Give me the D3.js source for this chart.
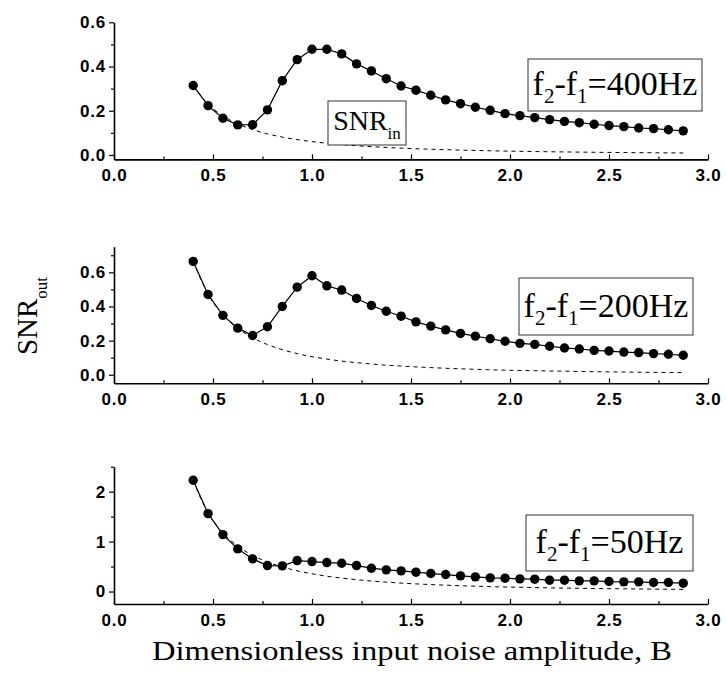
<!DOCTYPE html>
<html>
<head>
<meta charset="utf-8">
<script src="https://cdn.jsdelivr.net/npm/d3@7"></script>
<style>
    body { margin: 0; background: #fff; }
    .tick text { font-family: "Liberation Sans", Arial, sans-serif; font-weight: bold; font-size: 17px; letter-spacing: 0.8px; }
    .serif { font-family: "Liberation Serif", "Times New Roman", serif; }
</style>
</head>
<body>
<div class="chart"></div>
<script>
// noise amplitude B of every simulated point
var noiseB = [0.4, 0.475, 0.55, 0.625, 0.7, 0.775, 0.85, 0.925, 1.0, 1.075, 1.15, 1.225,
    1.3, 1.375, 1.45, 1.525, 1.6, 1.675, 1.75, 1.825, 1.9, 1.975, 2.05, 2.125,
    2.2, 2.275, 2.35, 2.425, 2.5, 2.575, 2.65, 2.725, 2.8, 2.875];

// f2-f1 = 400Hz
var snrOut400 = [0.314, 0.223, 0.166, 0.136, 0.137, 0.204, 0.336, 0.431, 0.478, 0.478, 0.457, 0.412,
    0.380, 0.345, 0.312, 0.293, 0.270, 0.249, 0.232, 0.216, 0.202, 0.187, 0.178, 0.169,
    0.160, 0.152, 0.146, 0.139, 0.133, 0.128, 0.122, 0.119, 0.114, 0.109];
var snrIn400 = [0.314, 0.230, 0.177, 0.141, 0.115, 0.0955, 0.0809, 0.0694, 0.0604, 0.0530, 0.0469, 0.0419,
    0.0376, 0.0340, 0.0309, 0.0282, 0.0259, 0.0239, 0.0220, 0.0204, 0.0190, 0.0177, 0.0166, 0.0155,
    0.0146, 0.0138, 0.0130, 0.0122, 0.0116, 0.0110, 0.0105, 0.0099, 0.0095, 0.0090];

// f2-f1 = 200Hz
var snrOut200 = [0.664, 0.470, 0.348, 0.273, 0.230, 0.281, 0.400, 0.513, 0.580, 0.521, 0.496, 0.447,
    0.406, 0.372, 0.343, 0.310, 0.285, 0.263, 0.242, 0.226, 0.211, 0.196, 0.184, 0.178,
    0.167, 0.157, 0.151, 0.143, 0.139, 0.133, 0.130, 0.124, 0.120, 0.114];
var snrIn200 = [0.665, 0.472, 0.352, 0.272, 0.217, 0.177, 0.147, 0.124, 0.106, 0.092, 0.080, 0.071,
    0.063, 0.056, 0.051, 0.046, 0.042, 0.038, 0.035, 0.032, 0.029, 0.027, 0.025, 0.024,
    0.022, 0.021, 0.019, 0.018, 0.017, 0.016, 0.015, 0.014, 0.0136, 0.0129];

// f2-f1 = 50Hz
var snrOut50 = [2.228, 1.56, 1.14, 0.854, 0.654, 0.52, 0.514, 0.62, 0.60, 0.58, 0.567, 0.52,
    0.467, 0.434, 0.414, 0.387, 0.36, 0.34, 0.314, 0.294, 0.274, 0.267, 0.254, 0.247,
    0.227, 0.227, 0.214, 0.214, 0.20, 0.194, 0.194, 0.18, 0.18, 0.167];
var snrIn50 = [2.22, 1.574, 1.174, 0.909, 0.725, 0.591, 0.492, 0.415, 0.355, 0.307, 0.269, 0.237,
    0.210, 0.188, 0.169, 0.153, 0.139, 0.127, 0.116, 0.107, 0.098, 0.091, 0.085, 0.079,
    0.073, 0.069, 0.064, 0.060, 0.057, 0.054, 0.051, 0.048, 0.045, 0.043];

var xMajor = [0, 0.5, 1.0, 1.5, 2.0, 2.5, 3.0];
var xMinor = [0.25, 0.75, 1.25, 1.75, 2.25, 2.75];
var yMajor400 = [0, 0.2, 0.4, 0.6], yMinor400 = [0.1, 0.3, 0.5];
var yMajor200 = [0, 0.2, 0.4, 0.6], yMinor200 = [0.1, 0.3, 0.5, 0.7];
var yMajor50 = [0, 1, 2], yMinor50 = [0.5, 1.5, 2.5];
var panelLabels = ["400Hz", "200Hz", "50Hz"];

var width = 727, height = 686;
var svg = d3.select(".chart").append("svg")
    .attr("width", width)
    .attr("height", height);

var x = d3.scaleLinear().domain([0, 3]).range([114, 708]);

var panels = [
    {out: snrOut400, inp: snrIn400, major: yMajor400, minor: yMinor400, fmt: d3.format(".1f"),
        domain: [-0.02, 0.6], top: 22.3, bottom: 159.4, label: panelLabels[0],
        box: [528, 59, 174, 52]},
    {out: snrOut200, inp: snrIn200, major: yMajor200, minor: yMinor200, fmt: d3.format(".1f"),
        domain: [-0.05, 0.75], top: 246.7, bottom: 383.3, label: panelLabels[1],
        box: [519, 278, 174, 57]},
    {out: snrOut50, inp: snrIn50, major: yMajor50, minor: yMinor50, fmt: d3.format("d"),
        domain: [-0.25, 2.5], top: 466.7, bottom: 604, label: panelLabels[2],
        box: [526, 515, 167, 56]}
];

function drawPanel(p, idx) {
    var y = d3.scaleLinear().domain(p.domain).range([p.bottom, p.top]);
    var g = svg.append("g");

    // x axis, ticks pointing up into the plot
    g.append("g")
        .attr("transform", "translate(0," + p.bottom + ")")
        .call(d3.axisBottom(x).tickValues(xMinor).tickSize(-3).tickFormat(""))
        .call(function (a) { a.select(".domain").remove(); });
    g.append("g")
        .attr("transform", "translate(0," + p.bottom + ")")
        .call(d3.axisBottom(x).tickValues(xMajor).tickSize(-5).tickSizeOuter(0)
            .tickPadding(10).tickFormat(d3.format(".1f")));

    // y axis, ticks pointing out
    g.append("g")
        .attr("transform", "translate(114,0)")
        .call(d3.axisLeft(y).tickValues(p.minor).tickSize(3).tickFormat(""))
        .call(function (a) { a.select(".domain").remove(); });
    g.append("g")
        .attr("transform", "translate(114,0)")
        .call(d3.axisLeft(y).tickValues(p.major).tickSize(5).tickSizeOuter(0)
            .tickPadding(3).tickFormat(p.fmt));

    g.selectAll(".domain").attr("stroke-width", 1.6);
    g.selectAll(".tick line").attr("stroke-width", 1.2);

    var pts = noiseB.map(function (b, i) { return {b: b, out: p.out[i], inp: p.inp[i]}; });

    g.append("path")
        .datum(pts)
        .attr("fill", "none")
        .attr("stroke", "#000")
        .attr("stroke-width", 1)
        .attr("stroke-dasharray", "4,4")
        .attr("d", d3.line().curve(d3.curveMonotoneX)
            .x(function (d) { return x(d.b); })
            .y(function (d) { return y(d.inp); }));

    g.append("path")
        .datum(pts)
        .attr("fill", "none")
        .attr("stroke", "#000")
        .attr("stroke-width", 1.2)
        .attr("d", d3.line()
            .x(function (d) { return x(d.b); })
            .y(function (d) { return y(d.out); }));

    g.selectAll("circle")
        .data(pts)
        .enter().append("circle")
        .attr("cx", function (d) { return x(d.b); })
        .attr("cy", function (d) { return y(d.out); })
        .attr("r", 4.7)
        .attr("fill", "#000");

    // frequency box
    var bx = p.box;
    g.append("rect")
        .attr("x", bx[0]).attr("y", bx[1])
        .attr("width", bx[2]).attr("height", bx[3])
        .attr("fill", "#fff").attr("stroke", "#333").attr("stroke-width", 1);
    var t = g.append("text")
        .attr("class", "serif")
        .attr("x", bx[0] + bx[2] / 2)
        .attr("y", bx[1] + bx[3] / 2 + 10)
        .attr("text-anchor", "middle")
        .style("font-size", "34px");
    t.append("tspan").text("f");
    t.append("tspan").attr("dy", 8).style("font-size", "21px").text("2");
    t.append("tspan").attr("dy", -8).text("-f");
    t.append("tspan").attr("dy", 8).style("font-size", "21px").text("1");
    t.append("tspan").attr("dy", -8).text("=" + p.label);
}

panels.forEach(drawPanel);

// SNR_in label in the top panel
svg.append("rect")
    .attr("x", 328).attr("y", 101).attr("width", 78).attr("height", 44)
    .attr("fill", "#fff").attr("stroke", "#333").attr("stroke-width", 1);
var snrIn = svg.append("text")
    .attr("class", "serif")
    .attr("x", 367).attr("y", 129.5)
    .attr("text-anchor", "middle")
    .style("font-size", "28px");
snrIn.append("tspan").text("SNR");
snrIn.append("tspan").attr("dy", 9).style("font-size", "17px").text("in");

// y label
var yl = svg.append("text")
    .attr("class", "serif")
    .attr("transform", "translate(37,316) rotate(-90)")
    .attr("text-anchor", "middle")
    .style("font-size", "29px");
yl.append("tspan").text("SNR");
yl.append("tspan").attr("dy", 10).style("font-size", "17px").text("out");

// x label
svg.append("text")
    .attr("class", "serif")
    .attr("x", 412).attr("y", 660)
    .attr("text-anchor", "middle")
    .attr("textLength", 520)
    .attr("lengthAdjust", "spacingAndGlyphs")
    .style("font-size", "28px")
    .text("Dimensionless input noise amplitude, B");
</script>
</body>
</html>
